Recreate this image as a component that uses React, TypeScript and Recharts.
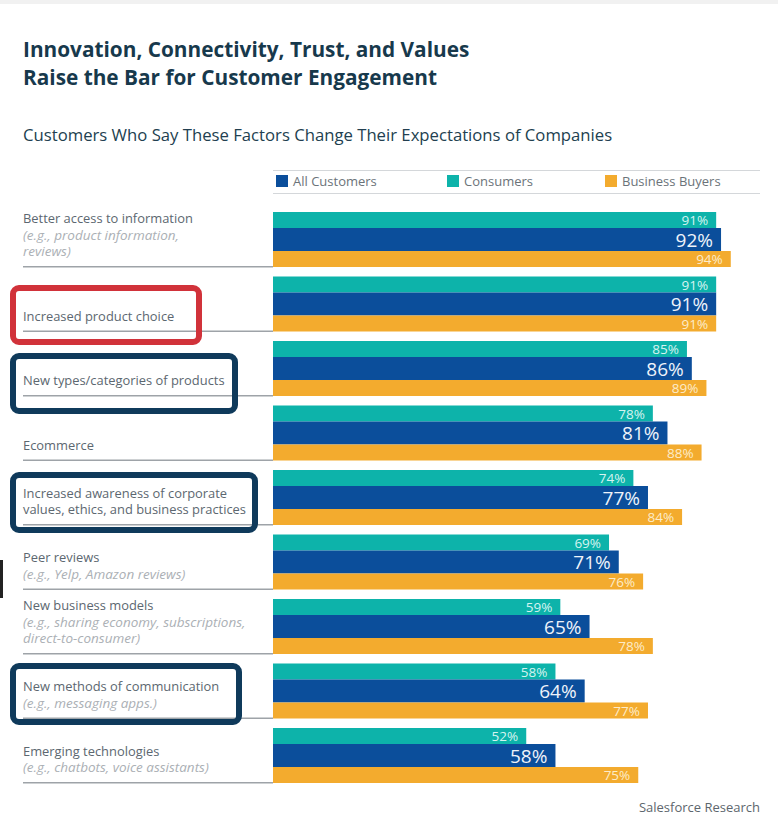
import React from 'react';
import { BarChart, Bar, XAxis, YAxis, LabelList, Legend } from 'recharts';

const categories = [
  'Better access to information',
  'Increased product choice',
  'New types/categories of products',
  'Ecommerce',
  'Increased awareness of corporate|values, ethics, and business practices',
  'Peer reviews',
  'New business models',
  'New methods of communication',
  'Emerging technologies',
];
const subLabels = [
  '(e.g., product information,|reviews)',
  '',
  '',
  '',
  '',
  '(e.g., Yelp, Amazon reviews)',
  '(e.g., sharing economy, subscriptions,|direct-to-consumer)',
  '(e.g., messaging apps.)',
  '(e.g., chatbots, voice assistants)',
];
const consumers = [91, 91, 85, 78, 74, 69, 59, 58, 52];
const allCustomers = [92, 91, 86, 81, 77, 71, 65, 64, 58];
const businessBuyers = [94, 91, 89, 88, 84, 76, 78, 77, 75];

const seriesNames = ['All Customers', 'Consumers', 'Business Buyers'];

const TEAL = '#0db3aa';
const BLUE = '#0b4e9b';
const ORANGE = '#f3ab2e';

const data = categories.map((c, i) => ({
  name: c,
  sub: subLabels[i],
  consumers: consumers[i],
  all: allCustomers[i],
  business: businessBuyers[i],
}));

const FONT = "'Open Sans', Lato, sans-serif";

const CategoryTick = (props: any) => {
  const { y, payload } = props;
  const row = data.find((d) => d.name === payload.value);
  const main = payload.value.split('|');
  const sub = row && row.sub ? row.sub.split('|') : [];
  const lines = [...main.map((t: string) => ({ t, s: false })), ...sub.map((t: string) => ({ t, s: true }))];
  const n = lines.length;
  const lineY = y + 27.5;
  return (
    <g>
      {lines.map((l, i) => (
        <text
          key={i}
          x={23}
          y={y + 12 - (n - 1 - i) * 16.5}
          dominantBaseline="central"
          fontFamily={FONT}
          fontSize={l.s ? 13.5 : 12.9}
          fontStyle={l.s ? 'italic' : 'normal'}
          fill={l.s ? '#abb0b5' : '#5c6770'}
        >
          {l.t}
        </text>
      ))}
      <line x1={23} x2={273} y1={lineY} y2={lineY} stroke="#9ea3a8" strokeWidth={1.5} />
    </g>
  );
};

const makeLabel = (size: number, color: string) => (props: any) => {
  const { x, y, width, height, value } = props;
  return (
    <text
      x={x + width - 8}
      y={y + height / 2}
      textAnchor="end"
      dominantBaseline="central"
      fontFamily={FONT}
      fontSize={size}
      fill={color}
    >
      {value}%
    </text>
  );
};

const legendColors = [BLUE, TEAL, ORANGE];
const legendX = [276, 447, 605];

const LegendContent = () => (
  <div style={{ position: 'relative', width: 778, height: 24, fontFamily: FONT }}>
    <div style={{ position: 'absolute', left: 273, top: 0, width: 487, height: 1, background: '#d4d7da' }} />
    <div style={{ position: 'absolute', left: 273, top: 23, width: 487, height: 1, background: '#d4d7da' }} />
    {seriesNames.map((s, i) => (
      <div key={s} style={{ position: 'absolute', left: legendX[i], top: 3, display: 'flex', alignItems: 'center', lineHeight: '16px' }}>
        <div style={{ width: 12, height: 12, background: legendColors[i], marginRight: 5 }} />
        <span style={{ fontSize: 13, color: '#6b7379' }}>{s}</span>
      </div>
    ))}
  </div>
);

const boxes = [
  { left: 10, top: 285, width: 192, height: 60, color: '#d1323a' },
  { left: 10, top: 353, width: 228, height: 61, color: '#0f3a5b' },
  { left: 10, top: 472, width: 248, height: 61, color: '#0f3a5b' },
  { left: 10, top: 663, width: 232, height: 62, color: '#0f3a5b' },
];

export default function App() {
  return (
    <div style={{ position: 'absolute', left: 0, top: 0, width: 778, height: 831, background: '#fff', overflow: 'hidden' }}>
      <div style={{ position: 'absolute', left: 0, top: 0, width: 778, height: 4, background: '#f1f1f1' }} />
      <div
        style={{
          position: 'absolute',
          left: 23,
          top: 35,
          fontFamily: FONT,
          fontWeight: 700,
          fontSize: 20.8,
          lineHeight: '28px',
          color: '#17394c',
        }}
      >
        Innovation, Connectivity, Trust, and Values
        <br />
        Raise the Bar for Customer Engagement
      </div>
      <div
        style={{
          position: 'absolute',
          left: 23,
          top: 123,
          fontFamily: FONT,
          fontSize: 16.7,
          color: '#223f50',
        }}
      >
        Customers Who Say These Factors Change Their Expectations of Companies
      </div>
      <div style={{ position: 'absolute', left: 0, top: 0 }}>
        <BarChart
          width={778}
          height={831}
          data={data}
          layout="vertical"
          margin={{ top: 207, right: 18, bottom: 43.5, left: 0 }}
          barGap={0}
        >
          <XAxis type="number" domain={[0, 100]} hide />
          <YAxis
            type="category"
            dataKey="name"
            width={273}
            axisLine={false}
            tickLine={false}
            interval={0}
            tick={<CategoryTick />}
          />
          <Legend
            layout="horizontal"
            verticalAlign="middle"
            align="center"
            content={<LegendContent />}
            wrapperStyle={{ position: 'absolute', left: 0, top: 170, width: 778, height: 24 }}
          />
          <Bar dataKey="consumers" name="Consumers" fill={TEAL} barSize={16} isAnimationActive={false}>
            <LabelList dataKey="consumers" content={makeLabel(13.5, '#d6f4f1')} />
          </Bar>
          <Bar dataKey="all" name="All Customers" fill={BLUE} barSize={23} isAnimationActive={false}>
            <LabelList dataKey="all" content={makeLabel(19, '#eef3fa')} />
          </Bar>
          <Bar dataKey="business" name="Business Buyers" fill={ORANGE} barSize={16} isAnimationActive={false}>
            <LabelList dataKey="business" content={makeLabel(13.5, '#fdecc9')} />
          </Bar>
        </BarChart>
      </div>
      {boxes.map((b, i) => (
        <div
          key={i}
          style={{
            position: 'absolute',
            left: b.left,
            top: b.top,
            width: b.width,
            height: b.height,
            border: `6px solid ${b.color}`,
            borderRadius: 9,
            boxSizing: 'border-box',
            pointerEvents: 'none',
          }}
        />
      ))}
      <div style={{ position: 'absolute', left: 0, top: 560, width: 3, height: 38, background: '#222' }} />
      <div
        style={{
          position: 'absolute',
          right: 18,
          top: 798,
          fontFamily: FONT,
          fontSize: 13,
          color: '#5d666d',
        }}
      >
        Salesforce Research
      </div>
    </div>
  );
}
